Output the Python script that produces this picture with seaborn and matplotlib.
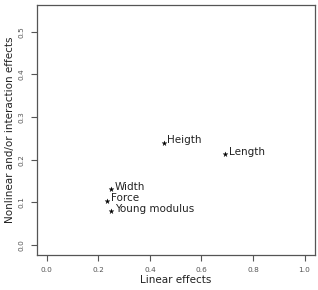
import matplotlib
matplotlib.use("Agg")
import matplotlib.pyplot as plt
import seaborn as sns
import pandas as pd

# sensitivity measures
factors = ['Heigth', 'Length', 'Width', 'Force', 'Young modulus']
linear = [0.453, 0.693, 0.249, 0.233, 0.249]
nonlinear = [0.240, 0.213, 0.131, 0.104, 0.079]
ticks_x = [0.0, 0.2, 0.4, 0.6, 0.8, 1.0]
ticks_y = [0.0, 0.1, 0.2, 0.3, 0.4, 0.5]

df = pd.DataFrame({'factor': factors, 'linear': linear, 'nonlinear': nonlinear})

sns.set_style('ticks')
plt.rcParams['font.family'] = ['DejaVu Sans']

fig = plt.figure(figsize=(3.18, 2.9), dpi=100)
ax = fig.add_axes([0.115, 0.121, 0.875, 0.862])

sns.scatterplot(data=df, x='linear', y='nonlinear', marker='*', s=14,
                color='black', edgecolor='black', linewidth=0.2, ax=ax)
for f, x, y in zip(factors, linear, nonlinear):
  ax.text(x + 0.015, y + 0.005, f, fontsize=7.5, va='center', ha='left',
          color='#222222')

ax.set(xlim=(-0.04, 1.04), ylim=(-0.0235, 0.563))
ax.set_xticks(ticks_x)
ax.set_yticks(ticks_y)
ax.set_xticklabels([f'{t:.1f}' for t in ticks_x])
ax.set_yticklabels([f'{t:.1f}' for t in ticks_y], rotation=90, va='center')
ax.tick_params(labelsize=5.3, colors='#555555', length=4, width=0.8, pad=5)
ax.set_xlabel('Linear effects', fontsize=7.5, color='#222222', labelpad=1)
ax.set_ylabel('Nonlinear and/or interaction effects', fontsize=7.5,
              color='#222222', labelpad=2)
for sp in ax.spines.values():
  sp.set_visible(True)
  sp.set_color('#555555')
  sp.set_linewidth(0.9)

plt.savefig('out.png', dpi=100)
plt.close()
